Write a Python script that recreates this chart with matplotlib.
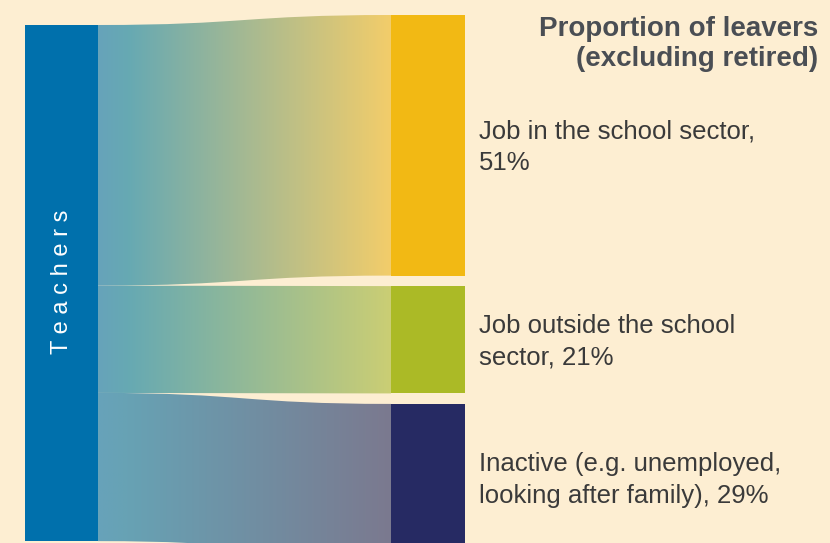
import numpy as np
import matplotlib
matplotlib.use("Agg")
import matplotlib.pyplot as plt
from matplotlib.path import Path
from matplotlib.patches import PathPatch, Rectangle
from matplotlib.colors import LinearSegmentedColormap

# ---- data ----
source_label = "Teachers"
categories = ["Job in the school sector,\n51%",
              "Job outside the school\nsector, 21%",
              "Inactive (e.g. unemployed,\nlooking after family), 29%"]
values = [51, 21, 29]
title = "Proportion of leavers\n(excluding retired)"

# ---- style ----
bg = "#fdeed2"
src_color = "#0070ac"
tgt_colors = ["#f2b914", "#abba26", "#262a63"]
flow_left = "#67a3ba"
flow_teal = ["#66a9b3", "#66a9b3", "#67a2b4"]
flow_right = ["#f3cd6a", "#cbce74", "#7b798f"]
text_color = "#3a3a3a"
title_color = "#4a4e54"

W, H = 830, 543
fig = plt.figure(figsize=(W / 100, H / 100), dpi=100, facecolor=bg)
ax = fig.add_axes([0, 0, 1, 1])
ax.set_facecolor(bg)
ax.axis("off")

scale = 5.11          # pixels per percent
left_x0, left_x1 = 24.5, 98
right_x0, right_x1 = 391, 465
flow_x0, flow_x1 = 98, 391
left_top = 25
right_top = 15
gap = 10.5

total = sum(values)
# source bar
ax.add_patch(Rectangle((left_x0, left_top), left_x1 - left_x0, total * scale,
                       facecolor=src_color, edgecolor="none", zorder=3))
ax.text((left_x0 + left_x1) / 2 + 1, left_top + total * scale / 2 - 1,
        " ".join(source_label), rotation=90, color="white",
        fontsize=17, family="Liberation Sans", ha="center", va="center", zorder=4)

yl = left_top
yr = right_top
xm = (flow_x0 + flow_x1) / 2
for i, v in enumerate(values):
    h = v * scale
    # target bar
    ax.add_patch(Rectangle((right_x0, yr), right_x1 - right_x0, h,
                           facecolor=tgt_colors[i], edgecolor="none", zorder=3))
    # flow path
    verts = [(flow_x0, yl), (xm, yl), (xm, yr), (flow_x1, yr),
             (flow_x1, yr + h),
             (xm, yr + h), (xm, yl + h), (flow_x0, yl + h),
             (flow_x0, yl)]
    codes = [Path.MOVETO, Path.CURVE4, Path.CURVE4, Path.CURVE4,
             Path.LINETO,
             Path.CURVE4, Path.CURVE4, Path.CURVE4,
             Path.CLOSEPOLY]
    patch = PathPatch(Path(verts, codes), facecolor="none", edgecolor="none")
    ax.add_patch(patch)
    cmap = LinearSegmentedColormap.from_list(
        f"g{i}", [(0, flow_left), (0.1, flow_teal[i]), (1, flow_right[i])])
    grad = np.linspace(0, 1, 256).reshape(1, -1)
    im = ax.imshow(grad, cmap=cmap, aspect="auto", interpolation="bilinear",
                   extent=(flow_x0, flow_x1, max(yl, yr) + h + 2, min(yl, yr) - 2),
                   zorder=2)
    im.set_clip_path(patch)
    # label
    ax.text(478.5, yr + h / 2 + 2, categories[i], color=text_color, fontsize=18.5,
            family="Liberation Sans", ha="left", va="center", linespacing=1.42,
            zorder=4)
    yl += h
    yr += h + gap

ax.text(818, 16, title, color=title_color, fontsize=20, fontweight="bold",
        family="Liberation Sans", ha="right", va="top", linespacing=1.2, zorder=4)

ax.set_xlim(0, W)
ax.set_ylim(H, 0)
fig.savefig("out.png", dpi=100, facecolor=bg)
